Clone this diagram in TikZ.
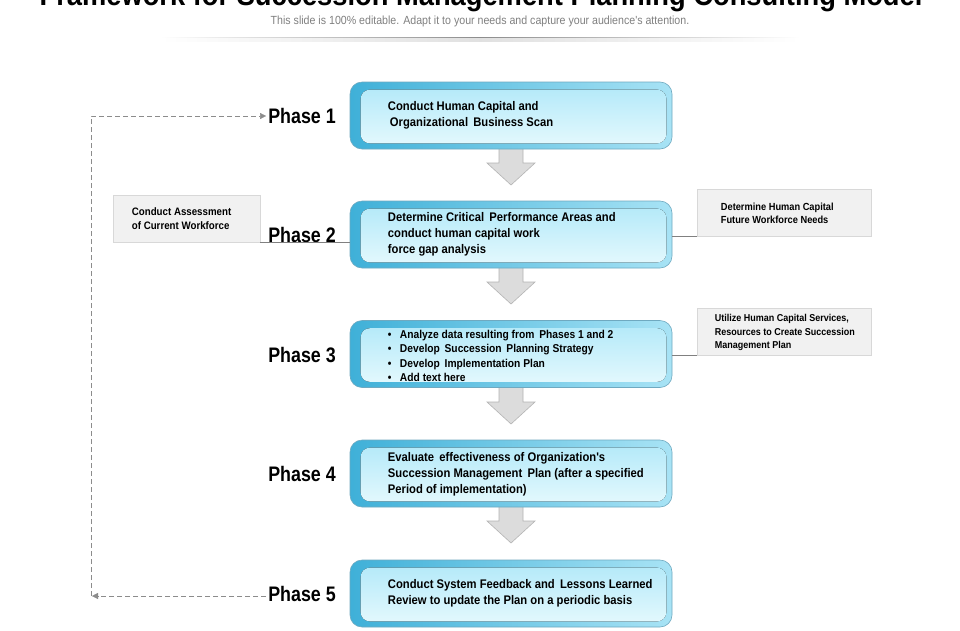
\documentclass[tikz,border=0pt]{standalone}
\usepackage{fontspec}
\setmainfont{Liberation Sans}
\newfontfamily\nar[FakeStretch=0.85]{Liberation Sans}
\newfontfamily\narm[FakeStretch=0.9]{Liberation Sans}
\newfontfamily\narb[FakeStretch=0.91]{Liberation Sans}
\usetikzlibrary{calc,arrows.meta}
\definecolor{boxdark}{HTML}{3FB0D8}
\definecolor{boxlight}{HTML}{A8E3F5}
\definecolor{inntop}{HTML}{B6EAF9}
\definecolor{innbot}{HTML}{E2F8FD}
\definecolor{boxedge}{HTML}{6FA9C0}
\definecolor{sidefill}{HTML}{F1F1F1}
\definecolor{sideedge}{HTML}{D8D8D8}
\definecolor{arrfill}{HTML}{DCDCDC}
\definecolor{arredge}{HTML}{B4B4B4}
\definecolor{dashcol}{HTML}{8C8C8C}
\definecolor{linecol}{HTML}{808080}
\definecolor{subcol}{HTML}{808080}
\tikzset{
  mainbox/.style={rounded corners=12pt, draw=boxedge, line width=0.6pt,
    left color=boxdark, right color=boxlight, minimum width=322pt,
    minimum height=67pt, inner sep=0pt},
  innerpanel/.style={rounded corners=9pt, top color=inntop, bottom color=innbot},
  boxtext/.style={anchor=west, align=left, inner sep=0pt,
    font=\narm\bfseries\fontsize{12.5}{16}\selectfont},
  phaselabel/.style={anchor=east, inner sep=2pt,
    font=\nar\bfseries\fontsize{21}{24}\selectfont},
  sidebox/.style={draw=sideedge, fill=sidefill, line width=0.6pt,
    minimum height=47pt, inner sep=0pt},
  sidetext/.style={anchor=west, align=left, inner sep=0pt,
    font=\narm\bfseries\fontsize{10.8}{14}\selectfont},
  blockarrow/.style={fill=arrfill, draw=arredge, line width=0.6pt, line join=miter},
  dashline/.style={draw=dashcol, line width=0.8pt, dash pattern=on 5pt off 3pt},
  dashtip/.style={-{Triangle[length=6pt,width=6pt]}, dashcol},
  thinline/.style={draw=linecol, line width=0.7pt},
}
\begin{document}
\begin{tikzpicture}[x=1pt,y=-1pt]
\useasboundingbox (0,0) rectangle (960,630);
\fill[white] (0,0) rectangle (960,630);

% title (cropped at top, as in the slide) and subtitle
\node[anchor=base, inner sep=0pt, font=\narb\bfseries\fontsize{30}{30}\selectfont] (title) at (481,5) {Framework for Succession Management Planning Consulting Model};
\node[inner sep=0pt, text=subcol, font=\narm\fontsize{11.8}{13}\selectfont] (subtitle) at (480,21) {This slide is 100\% editable. Adapt it to your needs and capture your audience's attention.};
\fill[left color=white, right color=white, middle color=black!45] (160,37.2) rectangle (800,38.8);
\fill[left color=white, right color=white, middle color=black!12] (160,38.8) rectangle (800,41);

% block arrows (drawn first so boxes cover their tops)
\coordinate (a1) at (511,149);
\coordinate (a2) at (511,268);
\coordinate (a3) at (511,388);
\coordinate (a4) at (511,507);
\foreach \a in {a1,a2,a3,a4}{
  \filldraw[blockarrow, shift={(\a)}] (-12,-3) -- (-12,14) -- (-24,14) -- (0,36) -- (24,14) -- (12,14) -- (12,-3);
}

% main boxes
\node[mainbox] (b1) at (511,115.5) {};
\node[mainbox] (b2) at (511,234.5) {};
\node[mainbox] (b3) at (511,354) {};
\node[mainbox] (b4) at (511,473.5) {};
\node[mainbox] (b5) at (511,593.5) {};
\foreach \b in {b1,b2,b3,b4,b5}{
  \fill[innerpanel] ($(\b.north west)+(11,8)$) rectangle ($(\b.south east)+(-6,-6)$);
}

\node[boxtext] (t1) at ($(b1.west)+(38,0)$) {Conduct Human Capital and\\ \,Organizational\, Business Scan};
\node[boxtext] (t2) at ($(b2.west)+(38,0)$) {Determine Critical\, Performance Areas and\\conduct human capital work\\force gap analysis};
\node[boxtext, font=\narm\bfseries\fontsize{11.4}{14.5}\selectfont] (t3) at ($(b3.west)+(38,2)$) {%
  \textbullet\hspace{8.5pt}Analyze data resulting from\, Phases 1 and 2\\
  \textbullet\hspace{8.5pt}Develop\, Succession\, Planning Strategy\\
  \textbullet\hspace{8.5pt}Develop\, Implementation Plan\\
  \textbullet\hspace{8.5pt}Add text here};
\node[boxtext] (t4) at ($(b4.west)+(38,0.5)$) {Evaluate\, effectiveness of Organization's\\Succession Management\, Plan (after a specified\\Period of implementation)};
\node[boxtext] (t5) at ($(b5.west)+(38,0)$) {Conduct System Feedback and\, Lessons Learned\\Review to update the Plan on a periodic basis};

% phase labels
\node[phaselabel] (ph1) at (338,116) {Phase 1};
\node[phaselabel] (ph2) at (338,235) {Phase 2};
\node[phaselabel] (ph3) at (338,355) {Phase 3};
\node[phaselabel] (ph4) at (338,474) {Phase 4};
\node[phaselabel] (ph5) at (338,594) {Phase 5};

% side boxes
\node[sidebox, minimum width=147pt] (sa) at (186.5,218.5) {};
\node[sidetext] (sat) at ($(sa.west)+(19,0)$) {Conduct Assessment\\of Current Workforce};
\node[sidebox, minimum width=174pt] (r1) at (784,212.5) {};
\node[sidetext, font=\narm\bfseries\fontsize{10.3}{13.5}\selectfont] (r1t) at ($(r1.west)+(24,1)$) {Determine Human Capital\\Future Workforce Needs};
\node[sidebox, minimum width=174pt] (r2) at (784,331.5) {};
\node[sidetext, font=\narm\bfseries\fontsize{10}{13.5}\selectfont] (r2t) at ($(r2.west)+(18,1)$) {Utilize Human Capital Services,\\Resources to Create Succession\\Management Plan};

% thin connectors
\draw[thinline] (sa.south east) -- (sa.south east -| b2.west);
\draw[thinline] (r1.south west) -- (r1.south west -| b2.east);
\draw[thinline] (r2.south west) -- (r2.south west -| b3.east);

% dashed feedback loop
\coordinate (c1) at (91,116);
\coordinate (c2) at (91,596);
\draw[dashline] (c2) -- (c1) -- ($(ph1.west |- c1)+(-6,0)$);
\draw[dashtip] ($(ph1.west |- c1)+(-7,0)$) -- (ph1.west |- c1);
\draw[dashline] (c2 -| ph5.west) -- ($(c2)+(6,0)$);
\draw[dashtip] ($(c2)+(8,0)$) -- ($(c2)+(1,0)$);
\end{tikzpicture}
\end{document}
